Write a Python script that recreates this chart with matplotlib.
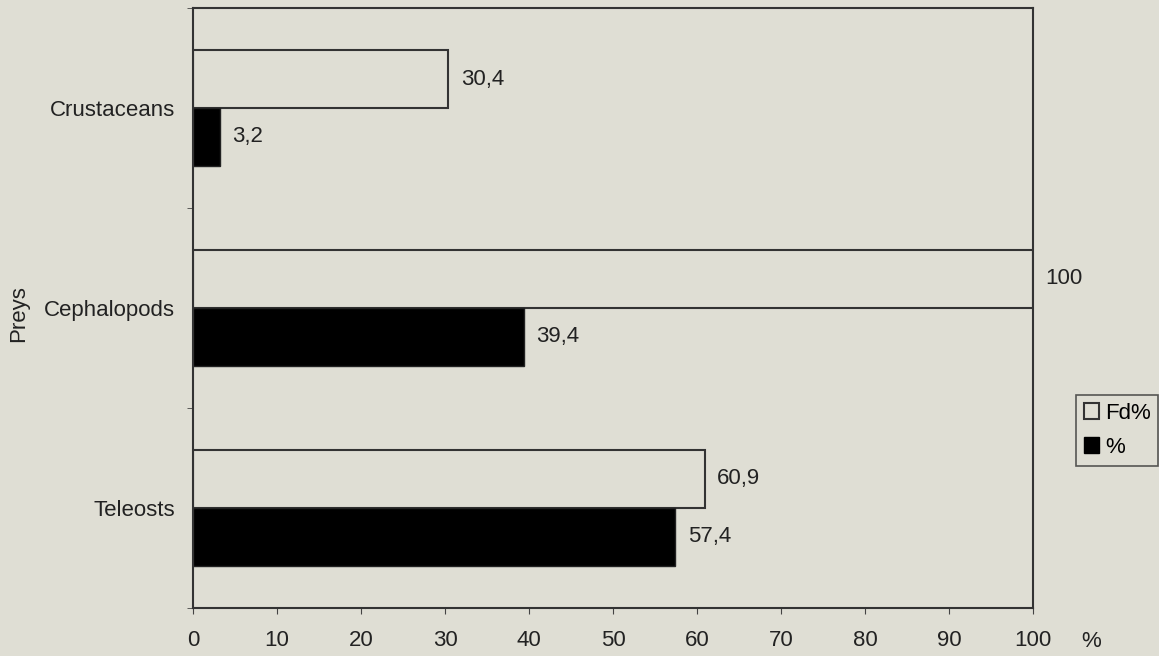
import matplotlib.pyplot as plt
import numpy as np
from matplotlib.patches import Patch

preys = ["Teleosts", "Cephalopods", "Crustaceans"]
fd_pct = [60.9, 100, 30.4]
pct = [57.4, 39.4, 3.2]
fd_labels = ["60,9", "100", "30,4"]
pct_labels = ["57,4", "39,4", "3,2"]
x_ticks = [0, 10, 20, 30, 40, 50, 60, 70, 80, 90, 100]

bg = "#dfded4"
plt.rcParams['font.family'] = ['Liberation Sans', 'DejaVu Sans']
plt.rcParams['font.size'] = 16

fig = plt.figure(figsize=(11.59, 6.56), dpi=100, facecolor=bg)
ax = fig.add_axes([0.1665, 0.0732, 0.7248, 0.9146])
ax.set_facecolor(bg)

y = np.arange(len(preys))
h = 0.29
ax.barh(y + h/2, fd_pct, height=h, color=bg, edgecolor="#333333", linewidth=1.5)
ax.barh(y - h/2, pct, height=h, color="black", edgecolor="#222222", linewidth=1)

for i in range(len(preys)):
    ax.annotate(fd_labels[i], (fd_pct[i], y[i] + h/2), xytext=(9, 0),
                textcoords="offset points", va="center", ha="left", color="#222222")
    ax.annotate(pct_labels[i], (pct[i], y[i] - h/2), xytext=(9, 0),
                textcoords="offset points", va="center", ha="left", color="#222222")

ax.set_xlim(0, 100)
ax.set_ylim(-0.5, 2.5)
ax.set_xticks(x_ticks)
ax.set_xticklabels([str(t) for t in x_ticks], color="#222222")
ax.set_yticks(y)
ax.set_yticklabels(preys, color="#222222")
ax.set_yticks([-0.5, 0.5, 1.5, 2.5], minor=True)
ax.tick_params(axis="y", which="major", length=0, pad=13)
ax.tick_params(axis="y", which="minor", length=4, direction="out", color="#444444")
ax.tick_params(axis="x", length=4, direction="out", pad=12, color="#444444")
for s in ax.spines.values():
    s.set_color("#333333")
    s.set_linewidth(1.5)
ax.set_ylabel("Preys", fontsize=16, color="#222222")
ax.yaxis.set_label_coords(-0.195, 0.49)
ax.text(1.058, -0.056, "%", transform=ax.transAxes, ha="left", va="center",
        fontsize=16, color="#222222")

handles = [Patch(facecolor=bg, edgecolor="#333333", linewidth=1.5, label="Fd%"),
           Patch(facecolor="black", edgecolor="black", label="%")]
leg = fig.legend(handles=handles, loc="upper left", bbox_to_anchor=(0.9284, 0.398),
                 frameon=True, fancybox=False, handlelength=0.7, handleheight=0.7,
                 handletextpad=0.25, borderpad=0.35, borderaxespad=0, labelspacing=0.6,
                 fontsize=16)
leg.get_frame().set_edgecolor("#333333")
leg.get_frame().set_facecolor(bg)
leg.get_frame().set_linewidth(1.2)

fig.savefig("out.png", dpi=100, facecolor=bg)
